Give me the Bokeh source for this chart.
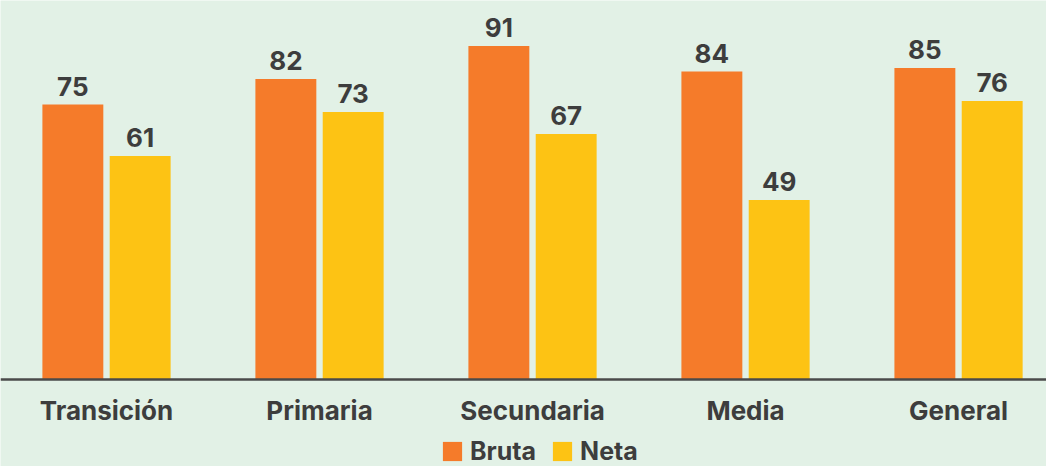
from bokeh.plotting import figure
from bokeh.models import ColumnDataSource, Legend, LegendItem, Range1d, Span
from bokeh.transform import dodge
from bokeh.core.properties import value
from bokeh.embed import file_html
from bokeh.resources import INLINE

categories = ["Transición", "Primaria", "Secundaria", "Media", "General"]
bruta = [75, 82, 91, 84, 85]
neta = [61, 73, 67, 49, 76]

BG = "#E2F1E6"
ORANGE = "#F57B2A"
YELLOW = "#FDC314"
TEXT = "#3D3D3D"
FONT = "Inter"

xs = list(range(len(categories)))
src = ColumnDataSource(dict(
    x=xs, cat=categories, bruta=bruta, neta=neta,
    bruta_lbl=[str(v) for v in bruta], neta_lbl=[str(v) for v in neta],
))

p = figure(frame_width=1046, frame_height=466, output_backend="svg",
           toolbar_location=None, x_range=Range1d(-0.4977, 4.413),
           y_range=Range1d(-23.74, 103.4), min_border=0,
           x_axis_location=None, y_axis_location=None,
           background_fill_color=BG, border_fill_color=BG)
p.outline_line_color = None
p.grid.grid_line_color = None

W = 0.286
OFF = 0.158
rb = p.vbar(x=dodge("x", -OFF), top="bruta", bottom=0, width=W, source=src,
            fill_color=ORANGE, line_color=None)
rn = p.vbar(x=dodge("x", OFF), top="neta", bottom=0, width=W, source=src,
            fill_color=YELLOW, line_color=None)

for col, off in (("bruta", -OFF), ("neta", OFF)):
    p.text(x=dodge("x", off), y=col, text=col + "_lbl", source=src,
           text_align="center", text_baseline="bottom", y_offset=-9,
           text_font=value(FONT), text_font_style="bold",
           text_font_size="26px", text_color=TEXT)

# baseline (x axis line)
p.add_layout(Span(location=0, dimension="width", line_color="#4A4A4A",
                  line_width=2.5))

# category labels
p.text(x="x", y=0, text="cat", source=src, y_offset=31,
       text_align="center", text_baseline="middle",
       text_font=value(FONT), text_font_style="bold",
       text_font_size="26px", text_color=TEXT)

legend = Legend(items=[LegendItem(label="Bruta", renderers=[rb]),
                       LegendItem(label="Neta", renderers=[rn])],
                orientation="horizontal", location=(440, 0),
                background_fill_alpha=0, border_line_color=None,
                label_text_font=FONT, label_text_font_style="bold",
                label_text_font_size="25px", label_text_color=TEXT,
                glyph_width=24, glyph_height=24, label_standoff=6,
                spacing=14, padding=0, margin=0)
p.add_layout(legend, "center")

open("out.html", "w").write(file_html(p, INLINE))
